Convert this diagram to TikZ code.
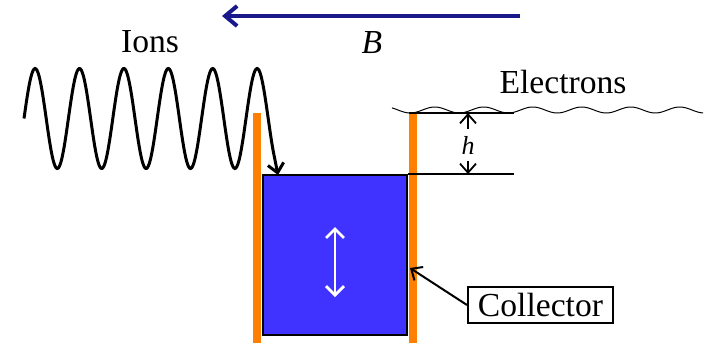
\documentclass[tikz,border=0pt]{standalone}
\usepackage{fontspec}
\setmainfont{Liberation Serif}
\usetikzlibrary{arrows.meta, positioning}
\definecolor{barorange}{RGB}{255,127,0}
\definecolor{boxblue}{RGB}{64,51,255}
\definecolor{fieldblue}{RGB}{25,25,140}

\begin{document}
\begin{tikzpicture}[x=0.5pt, y=-0.5pt,
  lbl/.style={font=\fontsize{16.8}{20}\selectfont, inner sep=0pt, anchor=base},
  wall/.style={fill=barorange, inner sep=0pt, minimum width=4pt, minimum height=115pt, anchor=north},
  barb/.style={-{Straight Barb[length=4.5pt, width=8pt]}}]
  \useasboundingbox (0,0) rectangle (711,343);
  % magnetic field
  \coordinate (bstart) at (520,16);
  \coordinate (bend) at (222,16);
  \draw[fieldblue, line width=2pt, -{Straight Barb[length=6pt, width=10pt]}] (bstart) -- (bend);
  \node[lbl] (bfield) at (372,53) {\textit{B}};
  % labels
  \node[lbl] (ions) at (150,52) {Ions};
  \node[lbl] (electrons) at (563,93) {Electrons};
  % walls
  \node[wall] (lwall) at (257,113) {};
  \node[wall] (rwall) at (413,113) {};
  % collector
  \node[draw, line width=1pt, fill=boxblue, minimum width=72pt, minimum height=80pt] (collector) at (335,255) {};
  \coordinate (up) at (335,227);
  \coordinate (down) at (335,297);
  \draw[white, line width=1.4pt, {Straight Barb[length=4.5pt, width=9pt]}-{Straight Barb[length=4.5pt, width=9pt]}] (up) -- (down);
  % ion orbit
  \coordinate (ionhit) at (278,175);
  \draw[line width=1.5pt, barb] plot[domain=24:274, samples=250, smooth] (\x, {118.5-50*sin((\x-24)*8.108)}) -- (ionhit);
  % electron orbit
  \draw[line width=0.5pt] plot[domain=392:703, samples=200, smooth] (\x, {110+3*sin((\x-398)*7.347)});
  % depth h
  \coordinate (lvltop) at (514,113);
  \coordinate (lvlbot) at (collector.north east -| lvltop);
  \draw[line width=1pt] (rwall.north west) -- (lvltop);
  \draw[line width=1pt] (collector.north east) -- (lvlbot);
  \node[font=\fontsize{13}{15}\selectfont\itshape, inner sep=3.5pt] (h) at (468,145) {h};
  \draw[line width=0.9pt, barb] (h.north) -- (h.north |- lvltop);
  \draw[line width=0.9pt, barb] (h.south) -- (h.south |- lvlbot);
  % collector label
  \node[lbl, anchor=center, draw, line width=1pt, minimum width=72.5pt, minimum height=18pt] (clabel) at (540.5,305) {Collector};
  \coordinate (hit) at (410,268);
  \draw[line width=1pt, barb] (clabel.west) -- (hit);
\end{tikzpicture}
\end{document}
